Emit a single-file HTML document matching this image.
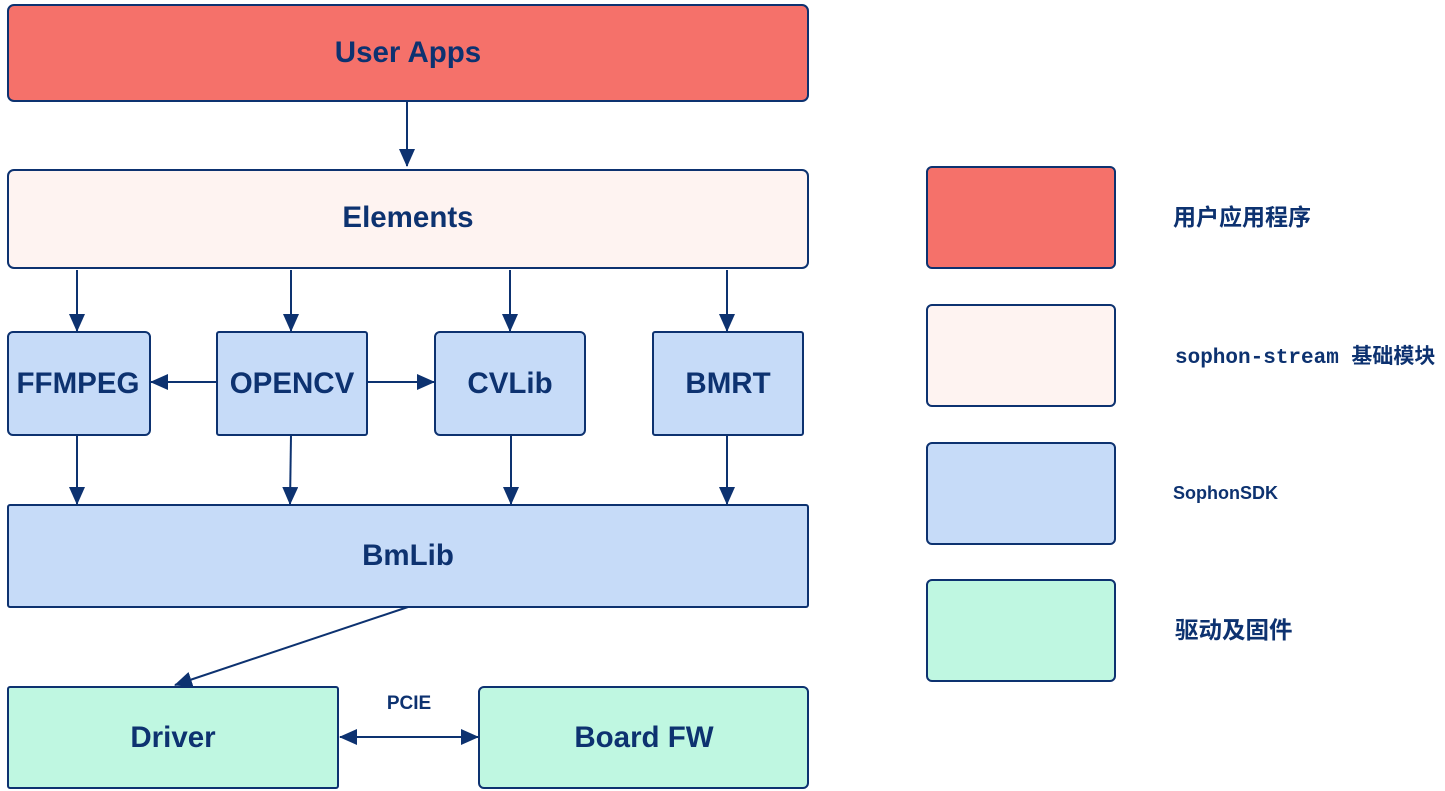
<!DOCTYPE html>
<html><head><meta charset="utf-8"><style>
html,body{margin:0;padding:0;background:#fff;}
svg{display:block}
text{font-family:"Liberation Sans","Noto Sans CJK SC",sans-serif;font-weight:bold;fill:#0d3270;}
.m{font-family:"Liberation Mono","Noto Sans CJK SC",monospace;}
</style></head><body>
<svg width="1445" height="791" viewBox="0 0 1445 791" xmlns="http://www.w3.org/2000/svg">
<defs>
<marker id="b" markerWidth="20" markerHeight="16" refX="17" refY="8" orient="auto" markerUnits="userSpaceOnUse"><path d="M0,0 L18,8 L0,16 z" fill="#0d3270"/></marker>
<marker id="bs" markerWidth="20" markerHeight="16" refX="1" refY="8" orient="auto" markerUnits="userSpaceOnUse"><path d="M18,0 L0,8 L18,16 z" fill="#0d3270"/></marker></defs>
<g stroke="#0d3270" stroke-width="2">
<rect x="8" y="5" width="800" height="96" rx="6" fill="#f5716a"/>
<rect x="8" y="170" width="800" height="98" rx="6" fill="#fef3f1"/>
<rect x="8" y="332" width="142" height="103" rx="5" fill="#c6dbf8"/>
<rect x="217" y="332" width="150" height="103" rx="2" fill="#c6dbf8"/>
<rect x="435" y="332" width="150" height="103" rx="5" fill="#c6dbf8"/>
<rect x="653" y="332" width="150" height="103" rx="2" fill="#c6dbf8"/>
<rect x="8" y="505" width="800" height="102" rx="2" fill="#c6dbf8"/>
<rect x="8" y="687" width="330" height="101" rx="2" fill="#bff7e1"/>
<rect x="479" y="687" width="329" height="101" rx="5" fill="#bff7e1"/>
<rect x="927" y="167" width="188" height="101" rx="5" fill="#f5716a"/>
<rect x="927" y="305" width="188" height="101" rx="5" fill="#fef3f1"/>
<rect x="927" y="443" width="188" height="101" rx="5" fill="#c6dbf8"/>
<rect x="927" y="580" width="188" height="101" rx="5" fill="#bff7e1"/>
<g fill="none" marker-end="url(#b)">
<path d="M407 101 L407 166"/>
<path d="M77 270 L77 331"/><path d="M291 270 L291 331"/><path d="M510 270 L510 331"/><path d="M727 270 L727 331"/>
<path d="M77 435 L77 504"/><path d="M291 435 L290 504"/><path d="M511 435 L511 504"/><path d="M727 435 L727 504"/>
<path d="M217 382 L151 382"/><path d="M367 382 L434 382"/>
<path d="M408 607 L175 685"/>
<path d="M340 737 L478 737" marker-start="url(#bs)"/>
</g></g>
<g font-size="29.5" text-anchor="middle">
<text x="408" y="62">User Apps</text>
<text x="408" y="227">Elements</text>
<text x="78" y="393">FFMPEG</text>
<text x="292" y="393">OPENCV</text>
<text x="510" y="393">CVLib</text>
<text x="728" y="393">BMRT</text>
<text x="408" y="565">BmLib</text>
<text x="173" y="747">Driver</text>
<text x="644" y="747">Board FW</text>
</g>
<text x="409" y="709" font-size="19" text-anchor="middle">PCIE</text>
<text x="1173" y="225" font-size="23">用户应用程序</text>
<text x="1175" y="363" font-size="21" class="m">sophon-stream 基础模块</text>
<text x="1173" y="499" font-size="18">SophonSDK</text>
<text x="1175" y="638" font-size="23.5">驱动及固件</text>
</svg>
</body></html>
